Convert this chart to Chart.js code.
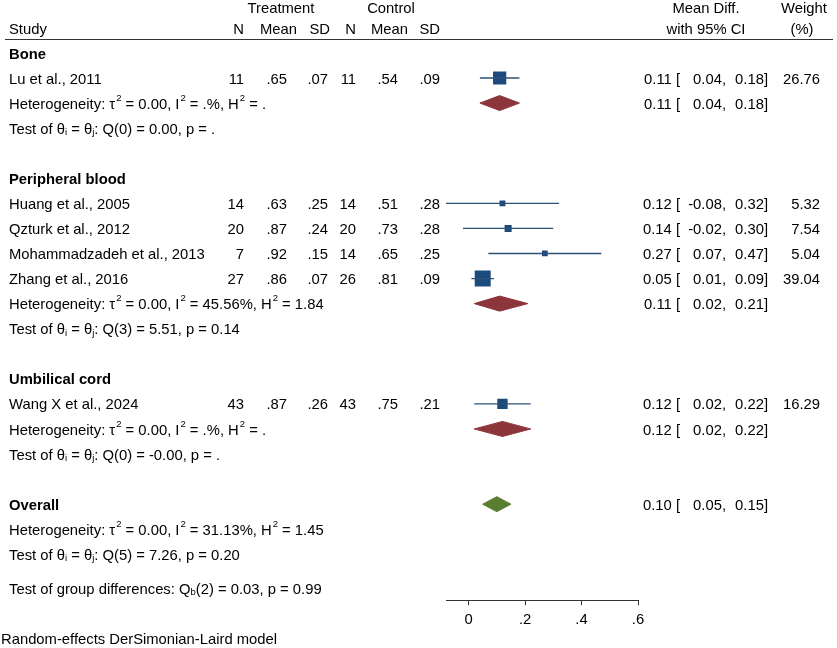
<!DOCTYPE html>
<html>
<head>
<meta charset="utf-8">
<script src="https://cdn.jsdelivr.net/npm/chart.js@4.4.0/dist/chart.umd.min.js"></script>
<style>
  html, body { margin: 0; padding: 0; background: #fff; }
</style>
</head>
<body>
<canvas id="forest" width="837" height="648"></canvas>
<script>
// study level data
var studies = ['Lu et al., 2011', 'Huang et al., 2005', 'Qzturk et al., 2012',
  'Mohammadzadeh et al., 2013', 'Zhang et al., 2016', 'Wang X et al., 2024'];
var studyGroup = [0, 1, 1, 1, 1, 2];
var treatN = [11, 14, 20, 7, 27, 43];
var treatMean = [0.65, 0.63, 0.87, 0.92, 0.86, 0.87];
var treatSD = [0.07, 0.25, 0.24, 0.15, 0.07, 0.26];
var ctrlN = [11, 14, 20, 14, 26, 43];
var ctrlMean = [0.54, 0.51, 0.73, 0.65, 0.81, 0.75];
var ctrlSD = [0.09, 0.28, 0.28, 0.25, 0.09, 0.21];
var meanDiff = [0.11, 0.12, 0.14, 0.27, 0.05, 0.12];
var ciLow = [0.04, -0.08, -0.02, 0.07, 0.01, 0.02];
var ciHigh = [0.18, 0.32, 0.30, 0.47, 0.09, 0.22];
var weight = [26.76, 5.32, 7.54, 5.04, 39.04, 16.29];

// subgroup pooled results
var groups = ['Bone', 'Peripheral blood', 'Umbilical cord'];
var groupDiff = [0.11, 0.11, 0.12];
var groupLow = [0.04, 0.02, 0.02];
var groupHigh = [0.18, 0.21, 0.22];
var groupHet = ['Heterogeneity: \u03c4^2 = 0.00, I^2 = .%, H^2 = .',
  'Heterogeneity: \u03c4^2 = 0.00, I^2 = 45.56%, H^2 = 1.84',
  'Heterogeneity: \u03c4^2 = 0.00, I^2 = .%, H^2 = .'];
var groupTest = ['Test of \u03b8_i = \u03b8_j: Q(0) = 0.00, p = .',
  'Test of \u03b8_i = \u03b8_j: Q(3) = 5.51, p = 0.14',
  'Test of \u03b8_i = \u03b8_j: Q(0) = -0.00, p = .'];

// overall
var overallDiff = 0.10, overallLow = 0.05, overallHigh = 0.15;
var overallHet = 'Heterogeneity: \u03c4^2 = 0.00, I^2 = 31.13%, H^2 = 1.45';
var overallTest = 'Test of \u03b8_i = \u03b8_j: Q(5) = 7.26, p = 0.20';
var groupDiffTest = 'Test of group differences: Q_b(2) = 0.03, p = 0.99';
var modelNote = 'Random-effects DerSimonian-Laird model';

var xTicks = [0, 0.2, 0.4, 0.6];

// colours
var navy = '#1c4a7c';
var maroon = '#8c363b';
var olive = '#5a7d32';
var FONT = '"Liberation Sans", Arial, Helvetica, sans-serif';
var FS = 14.8;
var TY = 1.5; // nudge text down a little, middle baseline sits high

// work out which row each line goes on
var studyRow = [], groupRow = [], hetRow = [], testRow = [];
var r = 0;
groups.forEach(function (g, gi) {
  groupRow[gi] = r++;
  studies.forEach(function (s, i) { if (studyGroup[i] === gi) studyRow[i] = r++; });
  hetRow[gi] = r++;
  testRow[gi] = r++;
  r++; // blank
});
var overallRow = r;

// helpers
function stataNum(v) { // .65 style
  return v.toFixed(2).replace(/^0/, '').replace(/^-0/, '-');
}
function tickFmt(v) {
  if (v === 0) return '0';
  return String(+v.toFixed(1)).replace(/^0/, '');
}
function diamond(est, lo, hi, row) {
  var h = 0.3;
  return [{x: lo, y: row}, {x: est, y: row - h}, {x: hi, y: row}, {x: est, y: row + h}, {x: lo, y: row}];
}

// text with ^x superscript and _x subscript
function richText(ctx, str, x, y, align) {
  var parts = [], buf = '';
  for (var k = 0; k < str.length; k++) {
    var c = str[k];
    if ((c === '^' || c === '_') && k + 1 < str.length) {
      if (buf) parts.push({t: buf, m: 0});
      buf = '';
      parts.push({t: str[k + 1], m: c === '^' ? 1 : -1});
      k++;
    } else buf += c;
  }
  if (buf) parts.push({t: buf, m: 0});
  var total = 0;
  parts.forEach(function (p) {
    ctx.font = (p.m ? '9.5px ' : FS + 'px ') + FONT;
    p.w = ctx.measureText(p.t).width + (p.m === 1 ? 1 : 0);
    total += p.w;
  });
  var cx = align === 'right' ? x - total : (align === 'center' ? x - total / 2 : x);
  ctx.textAlign = 'left';
  parts.forEach(function (p) {
    ctx.font = (p.m ? '9.5px ' : FS + 'px ') + FONT;
    var dy = p.m === 1 ? -6.5 : (p.m === -1 ? 3 : 0);
    ctx.fillText(p.t, cx + (p.m === 1 ? 1 : 0), y + dy + TY);
    cx += p.w;
  });
}

function text(ctx, str, x, y, align, bold) {
  ctx.font = (bold ? 'bold ' : '') + FS + 'px ' + FONT;
  ctx.textAlign = align || 'left';
  ctx.fillText(str, x, y + TY);
}

function ciText(ctx, est, lo, hi, y) {
  text(ctx, est.toFixed(2) + ' [', 680, y, 'right');
  text(ctx, lo.toFixed(2) + ',', 726, y, 'right');
  text(ctx, hi.toFixed(2) + ']', 768, y, 'right');
}

var tablePlugin = {
  id: 'forestTable',
  afterDraw: function (chart) {
    var ctx = chart.ctx;
    var ys = chart.scales.y;
    function py(row) { return ys.getPixelForValue(row); }
    ctx.save();
    ctx.fillStyle = '#000';
    ctx.textBaseline = 'middle';

    // headers
    var h1 = py(-1.83), h2 = py(-0.99);
    text(ctx, 'Treatment', 281, h1, 'center');
    text(ctx, 'Control', 391, h1, 'center');
    text(ctx, 'Mean Diff.', 706, h1, 'center');
    text(ctx, 'Weight', 804, h1, 'center');
    text(ctx, 'Study', 9, h2, 'left');
    text(ctx, 'N', 244, h2, 'right');
    text(ctx, 'Mean', 297, h2, 'right');
    text(ctx, 'SD', 330, h2, 'right');
    text(ctx, 'N', 356, h2, 'right');
    text(ctx, 'Mean', 408, h2, 'right');
    text(ctx, 'SD', 440, h2, 'right');
    text(ctx, 'with 95% CI', 706, h2, 'center');
    text(ctx, '(%)', 802, h2, 'center');

    ctx.strokeStyle = '#333';
    ctx.lineWidth = 1;
    ctx.beginPath();
    var ly = Math.round(py(-0.54)) + 0.5;
    ctx.moveTo(5, ly);
    ctx.lineTo(833, ly);
    ctx.stroke();

    groups.forEach(function (g, gi) {
      text(ctx, g, 9, py(groupRow[gi]), 'left', true);
      richText(ctx, groupHet[gi], 9, py(hetRow[gi]), 'left');
      richText(ctx, groupTest[gi], 9, py(testRow[gi]), 'left');
      ciText(ctx, groupDiff[gi], groupLow[gi], groupHigh[gi], py(hetRow[gi]));
    });

    studies.forEach(function (s, i) {
      var y = py(studyRow[i]);
      text(ctx, s, 9, y, 'left');
      text(ctx, String(treatN[i]), 244, y, 'right');
      text(ctx, stataNum(treatMean[i]), 287, y, 'right');
      text(ctx, stataNum(treatSD[i]), 328, y, 'right');
      text(ctx, String(ctrlN[i]), 356, y, 'right');
      text(ctx, stataNum(ctrlMean[i]), 398, y, 'right');
      text(ctx, stataNum(ctrlSD[i]), 440, y, 'right');
      ciText(ctx, meanDiff[i], ciLow[i], ciHigh[i], y);
      text(ctx, weight[i].toFixed(2), 820, y, 'right');
    });

    text(ctx, 'Overall', 9, py(overallRow), 'left', true);
    ciText(ctx, overallDiff, overallLow, overallHigh, py(overallRow));
    richText(ctx, overallHet, 9, py(overallRow + 1), 'left');
    richText(ctx, overallTest, 9, py(overallRow + 2), 'left');
    richText(ctx, groupDiffTest, 9, py(overallRow + 3.35), 'left');
    text(ctx, modelNote, 1, py(overallRow + 5.35), 'left');
    ctx.restore();
  }
};

// datasets
var datasets = [];
studies.forEach(function (s, i) {
  datasets.push({
    type: 'line',
    data: [{x: ciLow[i], y: studyRow[i]}, {x: ciHigh[i], y: studyRow[i]}],
    borderColor: '#2e5178',
    borderWidth: 1.3,
    pointRadius: 0,
    fill: false
  });
});
datasets.push({
  type: 'scatter',
  data: studies.map(function (s, i) { return {x: meanDiff[i], y: studyRow[i]}; }),
  pointStyle: 'rect',
  pointRadius: function (c) { return 2.56 * Math.sqrt(weight[c.dataIndex]) / Math.SQRT2; },
  backgroundColor: navy,
  borderColor: navy,
  borderWidth: 0
});
groups.forEach(function (g, gi) {
  datasets.push({
    type: 'line',
    data: diamond(groupDiff[gi], groupLow[gi], groupHigh[gi], hetRow[gi]),
    borderColor: maroon,
    backgroundColor: maroon,
    borderWidth: 1,
    pointRadius: 0,
    tension: 0,
    fill: 'shape'
  });
});
datasets.push({
  type: 'line',
  data: diamond(overallDiff, overallLow, overallHigh, overallRow),
  borderColor: olive,
  backgroundColor: olive,
  borderWidth: 1,
  pointRadius: 0,
  tension: 0,
  fill: 'shape'
});

var rowTop = 53, rowStep = 25.1, axisY = 601;

var chart = new Chart(document.getElementById('forest').getContext('2d'), {
  type: 'scatter',
  data: {datasets: datasets},
  plugins: [tablePlugin],
  options: {
    responsive: false,
    animation: false,
    events: [],
    layout: {autoPadding: false, padding: {left: 446, right: 199, top: 0, bottom: 13}},
    plugins: {legend: {display: false}, tooltip: {enabled: false}},
    scales: {
      x: {
        type: 'linear',
        min: -0.08,
        max: 0.6,
        afterBuildTicks: function (scale) {
          scale.ticks = xTicks.map(function (v) { return {value: v}; });
        },
        ticks: {
          callback: function (v) { return tickFmt(v); },
          color: '#000',
          font: {family: FONT, size: FS},
          padding: 6,
          maxRotation: 0,
          autoSkip: false
        },
        grid: {display: true, drawOnChartArea: false, drawTicks: true, tickLength: 5, color: '#333'},
        border: {display: true, color: '#333', width: 1}
      },
      y: {
        type: 'linear',
        display: false,
        reverse: true,
        min: -rowTop / rowStep,
        max: (axisY - rowTop) / rowStep
      }
    }
  }
});
</script>
</body>
</html>
